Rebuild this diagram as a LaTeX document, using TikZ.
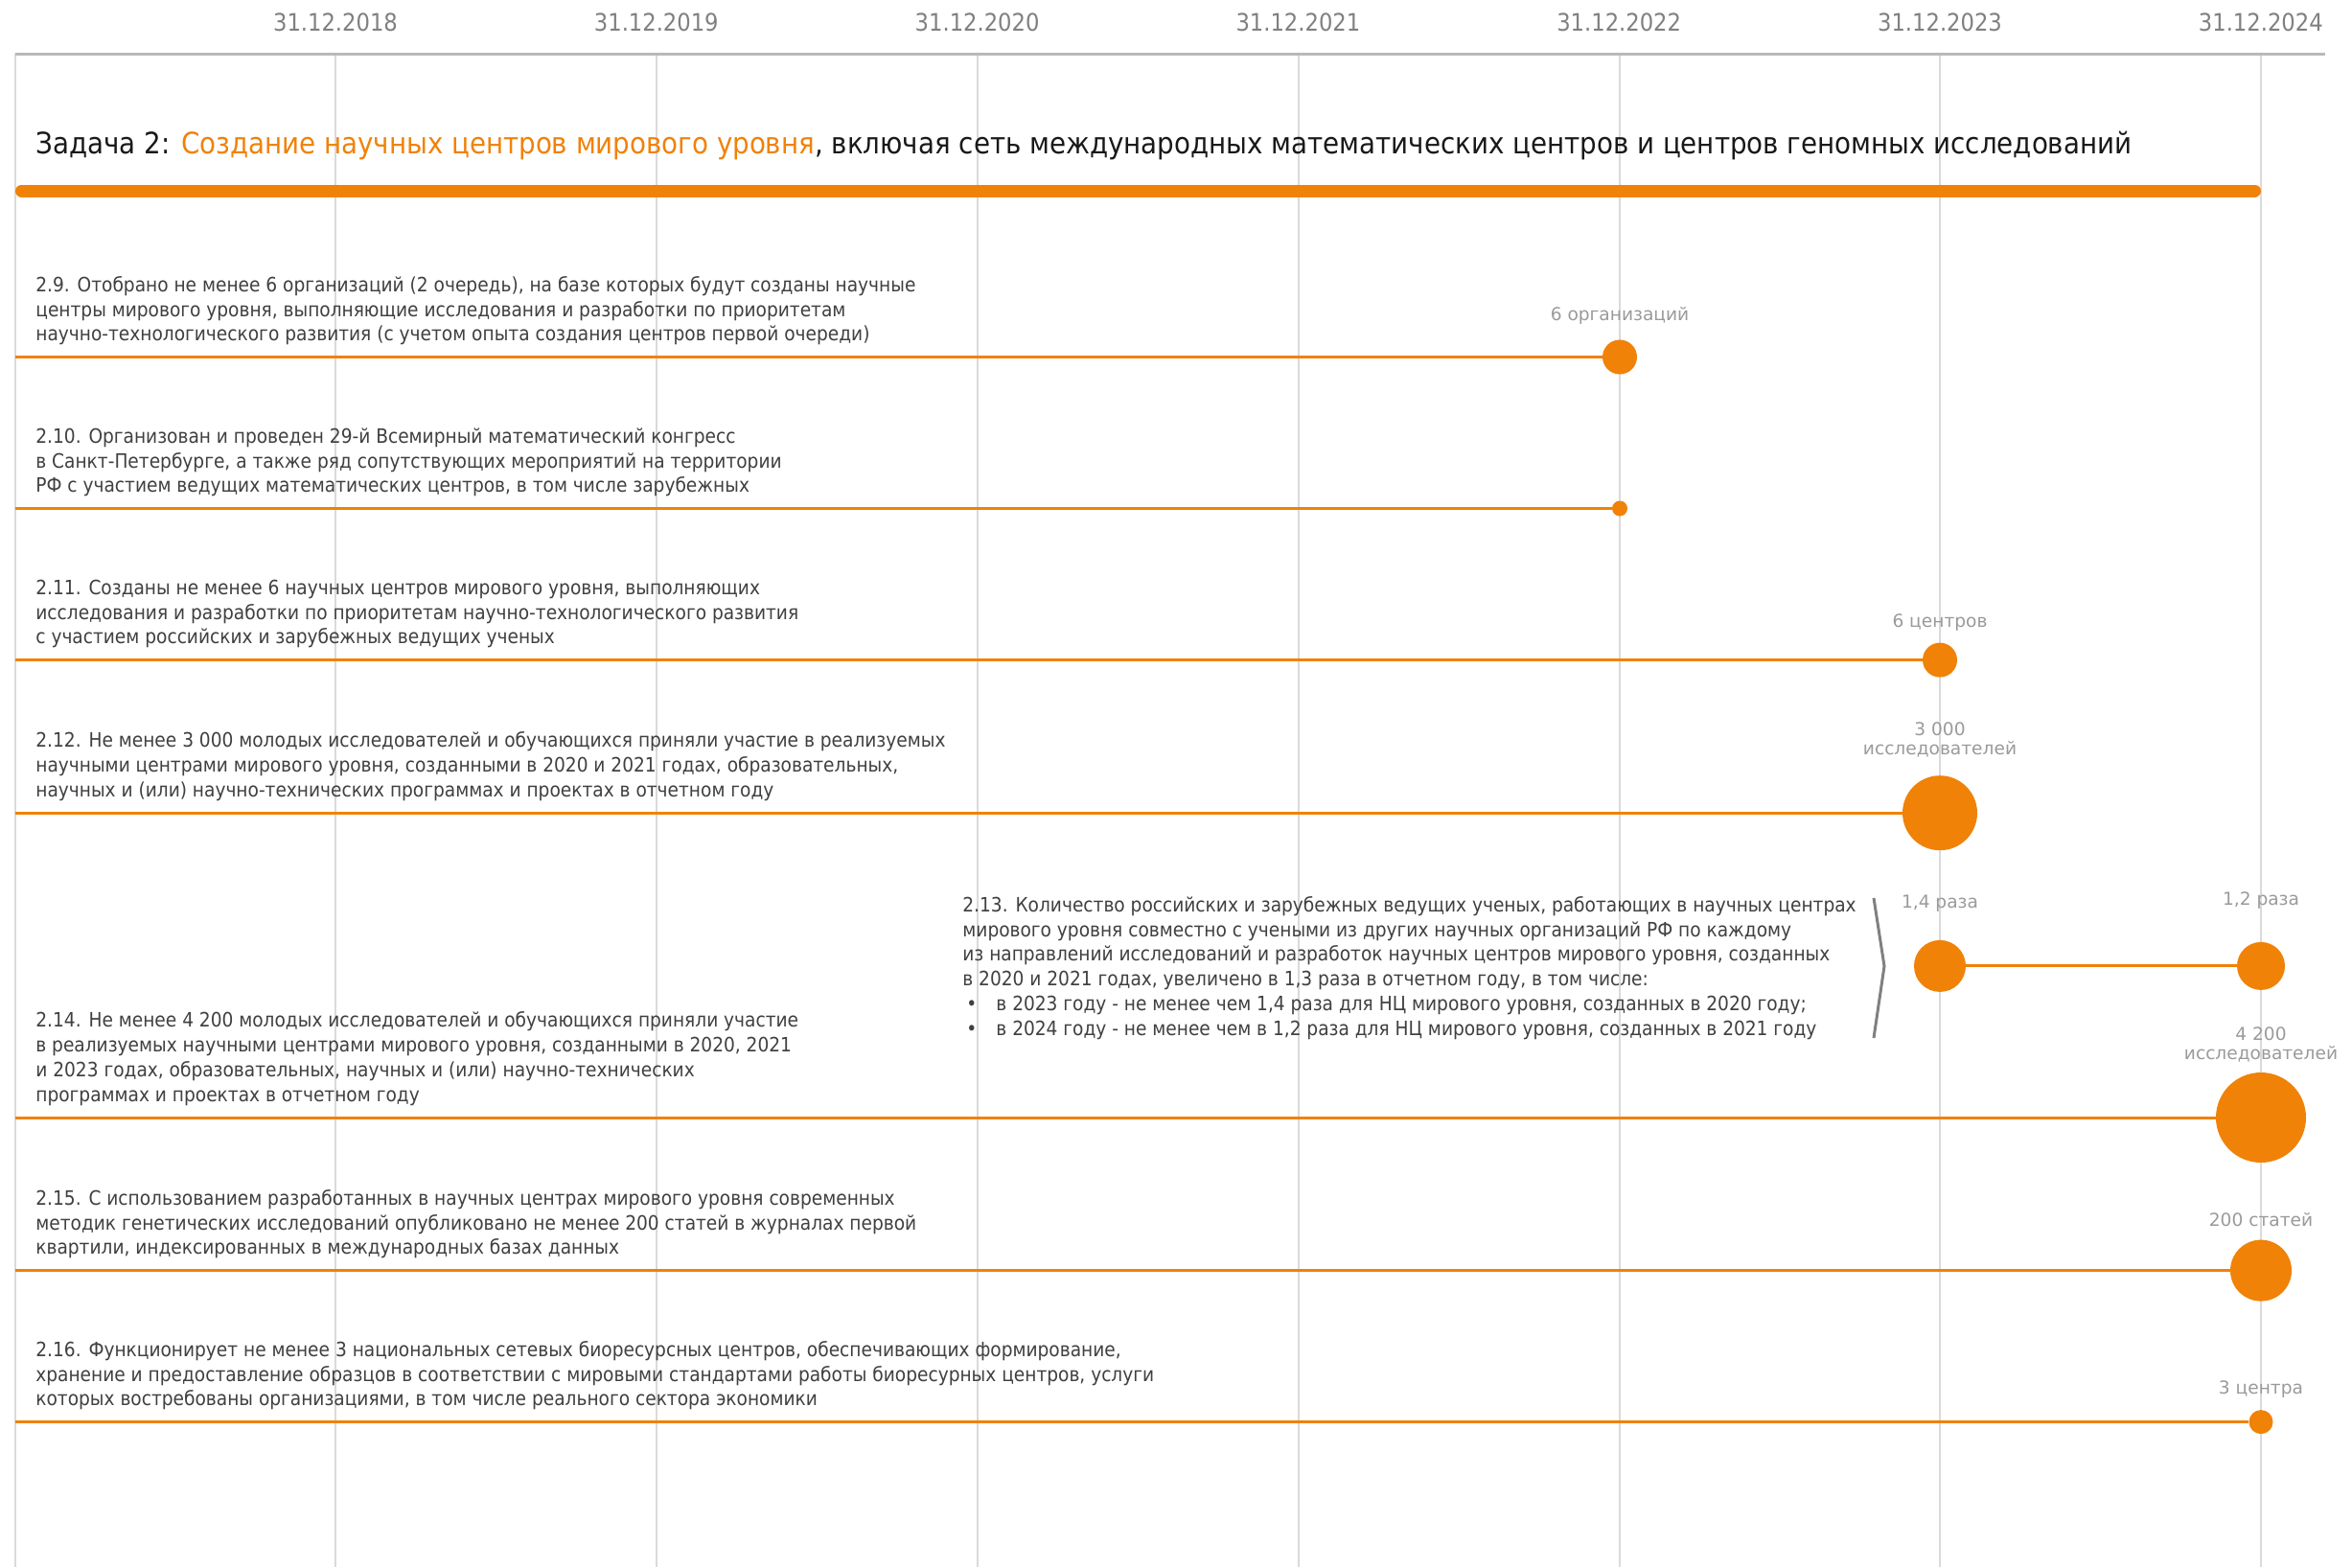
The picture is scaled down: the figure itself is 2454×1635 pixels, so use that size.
\documentclass[tikz,border=0pt]{standalone}
\usepackage{fontspec}
\setmainfont{DejaVu Sans}
\newfontfamily\condfont{DejaVu Sans Condensed}
\usepackage{xcolor}
\definecolor{accent}{HTML}{F08208}
\definecolor{grid-gray}{HTML}{DADADA}
\definecolor{text-gray}{HTML}{404040}
\definecolor{label-gray}{HTML}{9A9A9A}
\definecolor{date-gray}{HTML}{808080}
\tikzset{
    task-text/.style = {anchor=south west, inner sep=0pt, align=left, text=text-gray, font=\condfont\fontsize{10.33}{12.9}\selectfont},
    value-label/.style = {inner sep=0pt, align=center, text=label-gray, font=\fontsize{9.3}{10}\selectfont},
    milestone/.style = {circle, fill=accent, inner sep=0pt, minimum size=#1},
    task-line/.style = {draw=accent, line width=1.5pt},
    date-label/.style = {inner sep=0pt, text=date-gray, font=\condfont\fontsize{12.6}{14}\selectfont},
}

\begin{document}
\begin{tikzpicture}[x=0.5pt, y=-0.5pt]
\useasboundingbox (0,0) rectangle (2454,1635);
\foreach \gx in {16,350,685,1020,1355,1690,2024,2359}
    \draw[grid-gray, line width=1.2pt] (\gx,56) -- (\gx,1635);
\draw[gray!55, line width=1.5pt] (16,56) -- (2426,56);
\foreach \yr [count=\i] in {2018,...,2024}
    \node[date-label] (date\yr) at ({350+334.8*(\i-1)},23) {31.12.\yr};

\node[anchor=west, inner sep=0pt, text=black!90, font=\condfont\fontsize{15.4}{18}\selectfont] (title) at (37,152)
    {Задача 2: \textcolor{accent}{Создание научных центров мирового уровня}, включая сеть международных математических центров и центров геномных исследований};
\draw[accent, line width=6.5pt, line cap=round] (22.5,199) -- (2352.5,199);

\node[milestone=18pt] (m9) at (1690,372.5) {};
\node[milestone=8pt] (m10) at (1690,530.5) {};
\node[milestone=18pt] (m11) at (2024,688.6) {};
\node[milestone=39pt] (m12) at (2024,848.2) {};
\node[milestone=27pt] (m13a) at (2024,1007.9) {};
\node[milestone=25pt] (m13b) at (2359,1007.9) {};
\node[milestone=47pt] (m14) at (2359,1166) {};
\node[milestone=32pt] (m15) at (2359,1325.6) {};
\node[milestone=12.5pt] (m16) at (2359,1483.6) {};

\coordinate (s9) at (16,372.5);
\coordinate (s10) at (16,530.5);
\coordinate (s11) at (16,688.6);
\coordinate (s12) at (16,848.2);
\coordinate (s14) at (16,1166);
\coordinate (s15) at (16,1325.6);
\coordinate (s16) at (16,1483.6);
\draw[task-line] (s9) -- (m9);
\draw[task-line] (s10) -- (m10);
\draw[task-line] (s11) -- (m11);
\draw[task-line] (s12) -- (m12);
\draw[task-line] (m13a) -- (m13b);
\draw[task-line] (s14) -- (m14);
\draw[task-line] (s15) -- (m15);
\draw[task-line] (s16) -- (m16);

\node[value-label] (v9) at (1690,329) {6 организаций};
\node[value-label] (v11) at (2024,650) {6 центров};
\node[value-label] (v12) at (2024,771.5) {3 000\\исследователей};
\node[value-label] (v13a) at (2024,943) {1,4 раза};
\node[value-label] (v13b) at (2359,940) {1,2 раза};
\node[value-label] (v14) at (2359,1090) {4 200\\исследователей};
\node[value-label] (v15) at (2359,1273) {200 статей};
\node[value-label] (v16) at (2359,1450) {3 центра};

\node[task-text] (t9) at (37,360.5) {2.9. Отобрано не менее 6 организаций (2 очередь), на базе которых будут созданы научные\\центры мирового уровня, выполняющие исследования и разработки по приоритетам\\научно-технологического развития (с учетом опыта создания центров первой очереди)};
\node[task-text] (t10) at (37,518.5) {2.10. Организован и проведен 29-й Всемирный математический конгресс\\в Санкт-Петербурге, а также ряд сопутствующих мероприятий на территории\\РФ с участием ведущих математических центров, в том числе зарубежных};
\node[task-text] (t11) at (37,676.6) {2.11. Созданы не менее 6 научных центров мирового уровня, выполняющих\\исследования и разработки по приоритетам научно-технологического развития\\с участием российских и зарубежных ведущих ученых};
\node[task-text] (t12) at (37,836.2) {2.12. Не менее 3 000 молодых исследователей и обучающихся приняли участие в реализуемых\\научными центрами мирового уровня, созданными в 2020 и 2021 годах, образовательных,\\научных и (или) научно-технических программах и проектах в отчетном году};
\node[task-text] (t13) at (1004,1085) {2.13. Количество российских и зарубежных ведущих ученых, работающих в научных центрах\\мирового уровня совместно с учеными из других научных организаций РФ по каждому\\из направлений исследований и разработок научных центров мирового уровня, созданных\\в 2020 и 2021 годах, увеличено в 1,3 раза в отчетном году, в том числе:\\\hspace*{2pt}\makebox[15.5pt][l]{•}в 2023 году - не менее чем 1,4 раза для НЦ мирового уровня, созданных в 2020 году;\\\hspace*{2pt}\makebox[15.5pt][l]{•}в 2024 году - не менее чем в 1,2 раза для НЦ мирового уровня, созданных в 2021 году};
\node[task-text] (t14) at (37,1154) {2.14. Не менее 4 200 молодых исследователей и обучающихся приняли участие\\в реализуемых научными центрами мирового уровня, созданными в 2020, 2021\\и 2023 годах, образовательных, научных и (или) научно-технических\\программах и проектах в отчетном году};
\node[task-text] (t15) at (37,1313.6) {2.15. С использованием разработанных в научных центрах мирового уровня современных\\методик генетических исследований опубликовано не менее 200 статей в журналах первой\\квартили, индексированных в международных базах данных};
\node[task-text] (t16) at (37,1471.6) {2.16. Функционирует не менее 3 национальных сетевых биоресурсных центров, обеспечивающих формирование,\\хранение и предоставление образцов в соответствии с мировыми стандартами работы биоресурных центров, услуги\\которых востребованы организациями, в том числе реального сектора экономики};
\draw[date-gray, line width=1.5pt] (1955,937) -- (1966,1008) -- (1955,1083);
\end{tikzpicture}
\end{document}
